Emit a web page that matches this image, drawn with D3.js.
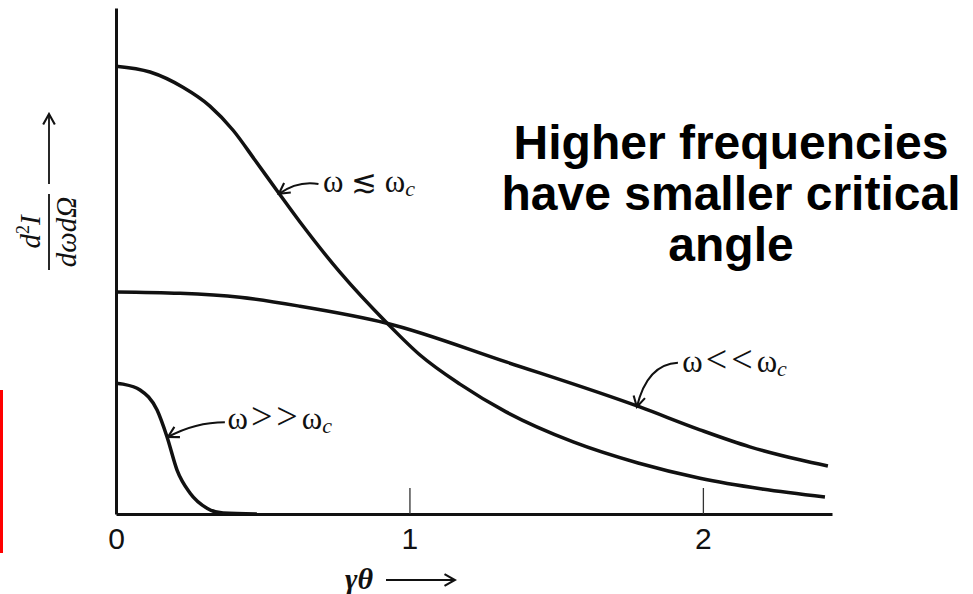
<!DOCTYPE html>
<html>
<head>
<meta charset="utf-8">
<script src="https://cdn.jsdelivr.net/npm/d3@7"></script>
<style>
	body { margin: 0; background: #fff; }
	svg { display: block; }
</style>
</head>
<body>
<div id="wrapper"></div>
<script>
// tick values on the gamma*theta axis
const xTicks = [0, 1, 2];

// omega <~ omega_c
const nearX = [0, 0.116, 0.228, 0.32, 0.399, 0.474, 0.552, 0.627, 0.763, 0.924, 1.036, 1.172, 1.329, 1.558, 1.779, 1.99, 2.202, 2.416];
const nearY = [1.0, 0.987, 0.953, 0.911, 0.857, 0.79, 0.719, 0.652, 0.54, 0.426, 0.355, 0.29, 0.228, 0.161, 0.114, 0.08, 0.056, 0.038];

// omega << omega_c
const lowX = [0, 0.218, 0.422, 0.627, 0.923, 1.332, 1.785, 1.99, 2.16, 2.33, 2.426];
const lowY = [0.496, 0.493, 0.484, 0.464, 0.426, 0.339, 0.239, 0.188, 0.15, 0.121, 0.107];

// omega >> omega_c
const highX = [0, 0.024, 0.082, 0.14, 0.174, 0.208, 0.252, 0.31, 0.365, 0.48];
const highY = [0.292, 0.29, 0.277, 0.232, 0.172, 0.098, 0.047, 0.013, 0.002, 0];

const noteLines = ["Higher frequencies", "have smaller critical", "angle"];

const drawChart = () => {
	const dimensions = {
		width: 973,
		height: 594,
		margins: { top: 8, right: 141, bottom: 80, left: 116 },
	};
	dimensions.boundedWidth = dimensions.width - dimensions.margins.left - dimensions.margins.right;
	dimensions.boundedHeight = dimensions.height - dimensions.margins.top - dimensions.margins.bottom;

	const svg = d3.select("#wrapper")
		.append("svg")
		.attr("width", dimensions.width)
		.attr("height", dimensions.height);

	const defs = svg.append("defs");
	defs.append("marker")
		.attr("id", "vee")
		.attr("viewBox", "-10 -6 12 12")
		.attr("markerUnits", "userSpaceOnUse")
		.attr("markerWidth", 14)
		.attr("markerHeight", 14)
		.attr("refX", 0)
		.attr("refY", 0)
		.attr("orient", "auto")
		.append("path")
		.attr("d", "M-9,-5 L0,0 L-9,5")
		.attr("fill", "none")
		.attr("stroke", "#111")
		.attr("stroke-width", 1.8);

	// scales
	const xScale = d3.scaleLinear()
		.domain([0, 2.44])
		.range([dimensions.margins.left, dimensions.margins.left + dimensions.boundedWidth]);
	const yScale = d3.scaleLinear()
		.domain([0, 1.13])
		.range([dimensions.margins.top + dimensions.boundedHeight, dimensions.margins.top]);

	// red bar at the far left
	svg.append("rect")
		.attr("x", 0).attr("y", 390)
		.attr("width", 3).attr("height", 163)
		.attr("fill", "#f00");

	// axes
	const xAxisGenerator = d3.axisBottom(xScale)
		.tickValues(xTicks)
		.tickFormat(d3.format("d"))
		.tickSizeInner(-26)
		.tickSizeOuter(0)
		.tickPadding(14);
	const xAxis = svg.append("g")
		.attr("transform", `translate(0, ${yScale(0)})`)
		.call(xAxisGenerator);
	xAxis.select(".domain").attr("stroke", "#111").attr("stroke-width", 3);
	xAxis.selectAll(".tick line").attr("stroke", "#333").attr("stroke-width", 1.3);
	xAxis.selectAll(".tick text")
		.attr("fill", "#111")
		.style("font-family", "'Liberation Sans', Arial, sans-serif")
		.style("font-size", "30px");

	const yAxis = svg.append("g")
		.attr("transform", `translate(${xScale(0)}, 0)`)
		.call(d3.axisLeft(yScale).tickValues([]).tickSizeOuter(0));
	yAxis.select(".domain").attr("stroke", "#111").attr("stroke-width", 3);

	// curves
	const lineGenerator = d3.line()
		.x((d) => xScale(d[0]))
		.y((d) => yScale(d[1]))
		.curve(d3.curveMonotoneX);
	const series = [
		d3.zip(nearX, nearY),
		d3.zip(lowX, lowY),
		d3.zip(highX, highY),
	];
	svg.append("g")
		.selectAll("path")
		.data(series)
		.join("path")
		.attr("d", lineGenerator)
		.attr("fill", "none")
		.attr("stroke", "#111")
		.attr("stroke-width", 3.5)
		.attr("stroke-linejoin", "round");

	// curve labels with leader arrows
	const labels = [
		{ rel: " \u2272 ", tail: [0.69, 0.737], tip: [0.555, 0.715], bend: [0.62, 0.745], tx: 0.705, ty: 0.718 },
		{ rel: "<<", tail: [1.915, 0.338], tip: [1.775, 0.239], bend: [1.81, 0.335], tx: 1.93, ty: 0.316 },
		{ rel: ">>", tail: [0.371, 0.205], tip: [0.177, 0.172], bend: [0.27, 0.205], tx: 0.38, ty: 0.19 },
	];
	const serif = "'Liberation Serif', 'DejaVu Serif', 'Times New Roman', serif";
	labels.forEach((l) => {
		const p = d3.path();
		p.moveTo(xScale(l.tail[0]), yScale(l.tail[1]));
		p.quadraticCurveTo(xScale(l.bend[0]), yScale(l.bend[1]), xScale(l.tip[0]), yScale(l.tip[1]));
		svg.append("path")
			.attr("d", p.toString())
			.attr("fill", "none")
			.attr("stroke", "#111")
			.attr("stroke-width", 2)
			.attr("marker-end", "url(#vee)");
		const big = l.rel === "<<" || l.rel === ">>";
		const t = svg.append("text")
			.attr("x", xScale(l.tx))
			.attr("y", yScale(l.ty))
			.attr("fill", "#111")
			.style("font-family", serif)
			.style("font-size", "31px");
		t.append("tspan").text("\u03c9");
		t.append("tspan").text(l.rel)
			.attr("dx", big ? 3 : 0)
			.style("font-size", big ? "38px" : "31px")
			.style("letter-spacing", big ? "4px" : "0px");
		t.append("tspan").text("\u03c9");
		t.append("tspan").text("c").attr("dy", 4).style("font-style", "italic").style("font-size", "22px");
	});

	// y axis title: d2I / (d omega d Omega) with arrow
	const yTitle = svg.append("g")
		.attr("transform", "translate(49, 232) rotate(-90)");
	yTitle.append("line")
		.attr("x1", -38).attr("x2", 38)
		.attr("stroke", "#111").attr("stroke-width", 1.8);
	const num = yTitle.append("text")
		.attr("text-anchor", "middle").attr("y", -9)
		.attr("fill", "#111")
		.style("font-family", serif).style("font-style", "italic").style("font-size", "29px");
	num.append("tspan").text("d");
	num.append("tspan").text("2").attr("dy", -11).style("font-size", "18px").style("font-style", "normal");
	num.append("tspan").text("I").attr("dy", 11);
	yTitle.append("text")
		.attr("text-anchor", "middle").attr("y", 27)
		.attr("fill", "#111")
		.style("font-family", serif).style("font-style", "italic").style("font-size", "29px")
		.text("d\u03c9d\u03a9");
	yTitle.append("line")
		.attr("x1", 48).attr("x2", 118)
		.attr("stroke", "#111").attr("stroke-width", 1.8)
		.attr("marker-end", "url(#vee)");

	// x axis title
	svg.append("text")
		.attr("x", 345).attr("y", 589)
		.attr("fill", "#111")
		.style("font-family", serif).style("font-style", "italic").style("font-weight", "bold").style("font-size", "30px")
		.text("\u03b3\u03b8");
	svg.append("line")
		.attr("x1", 386).attr("x2", 455)
		.attr("y1", 580).attr("y2", 580)
		.attr("stroke", "#111").attr("stroke-width", 2.2)
		.attr("marker-end", "url(#vee)");

	// note text
	svg.append("g")
		.selectAll("text")
		.data(noteLines)
		.join("text")
		.attr("x", 731)
		.attr("y", (d, i) => 159 + i * 51)
		.attr("text-anchor", "middle")
		.attr("fill", "#000")
		.style("font-family", "'Liberation Sans', Arial, sans-serif")
		.style("font-weight", "bold")
		.style("font-size", "48px")
		.text((d) => d);
};

drawChart();
</script>
</body>
</html>
